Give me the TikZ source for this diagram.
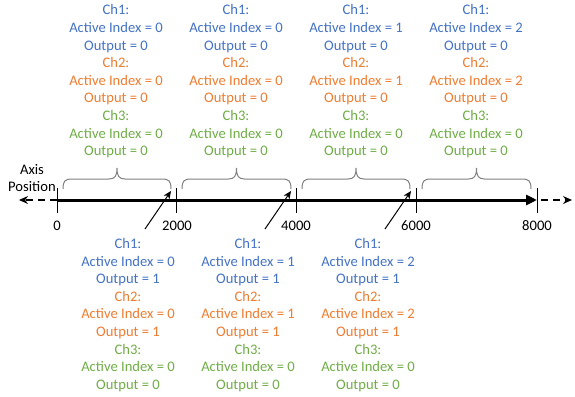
\documentclass[tikz,border=0pt]{standalone}
\usepackage{fontspec}
\setmainfont{Carlito}
\usetikzlibrary{arrows.meta}
\definecolor{cA}{HTML}{4472C4}
\definecolor{cB}{HTML}{ED7D31}
\definecolor{cC}{HTML}{70AD47}
\newcommand{\blk}[6]{\textcolor{cA}{Ch1:}\\\textcolor{cA}{Active Index = #1}\\\textcolor{cA}{Output = #2}\\\textcolor{cB}{Ch2:}\\\textcolor{cB}{Active Index = #3}\\\textcolor{cB}{Output = #4}\\\textcolor{cC}{Ch3:}\\\textcolor{cC}{Active Index = #5}\\\textcolor{cC}{Output = #6}}
\begin{document}
\begin{tikzpicture}[x=1pt,y=-1pt,
  txt/.style={align=center,inner sep=0pt,font=\fontsize{14.6}{17.6}\selectfont},
  tick/.style={line width=1pt},
  brc/.style={draw=gray,line width=1pt},
  ptr/.style={line width=1pt,-{Stealth[length=8pt,width=7pt]}}]
\useasboundingbox (0,0) rectangle (575,396);
% tick coordinates
\foreach \n/\x in {a/57,b/176,c/296,d/416,e/537}{
  \coordinate (t\n) at (\x,200);
  \coordinate (t\n u) at (\x,188);
  \coordinate (t\n d) at (\x,213);
  \draw[tick] (t\n u) -- (t\n d);
}
\coordinate (lend) at (19,200);
\coordinate (rend) at (572,200);
\draw[line width=1.3pt,dash pattern=on 7pt off 5pt,-{Stealth[length=9pt,width=8pt]}] (ta) -- (lend);
\draw[line width=1.3pt,dash pattern=on 7pt off 5pt,-{Stealth[length=9pt,width=8pt]}] ([xshift=4pt]te) -- (rend);
\draw[line width=3pt,-{Triangle[length=11pt,width=10pt]}] (ta) -- (te);
% labels
\node[txt] (l0) at (57,226) {0};
\node[txt] (l1) at (177,226) {2000};
\node[txt] (l2) at (296,226) {4000};
\node[txt] (l3) at (416,226) {6000};
\node[txt] (l4) at (537,226) {8000};
\node[txt] (axis) at (32,178) {Axis\\Position};
% braces
\foreach \x/\y in {63/171,182/291,302/410,422/531}{
  \pgfmathsetmacro{\m}{(\x+\y)/2}
  \draw[brc] (\x,189) .. controls (\x,181) and (\x+2,179) .. (\x+9,179) -- (\m-8,179) .. controls (\m-2,179) and (\m,176) .. (\m,168) .. controls (\m,176) and (\m+2,179) .. (\m+8,179) -- (\y-9,179) .. controls (\y-2,179) and (\y,181) .. (\y,189);
}
% top blocks
\node[txt] (top1) at (116,81.5) {\blk{0}{0}{0}{0}{0}{0}};
\node[txt] (top2) at (236,81.5) {\blk{0}{0}{0}{0}{0}{0}};
\node[txt] (top3) at (356,81.5) {\blk{1}{0}{1}{0}{0}{0}};
\node[txt] (top4) at (476,81.5) {\blk{2}{0}{2}{0}{0}{0}};
% bottom blocks
\node[txt] (bot1) at (128,315) {\blk{0}{1}{0}{1}{0}{0}};
\node[txt] (bot2) at (248,315) {\blk{1}{1}{1}{1}{0}{0}};
\node[txt] (bot3) at (368,315) {\blk{2}{1}{2}{1}{0}{0}};
% pointers
\foreach \n/\x/\t in {1/145/b,2/265/c,3/385/d}{
  \coordinate (p\n) at (\x,229);
  \draw[ptr] (p\n) -- ([xshift=-5pt,yshift=9pt]t\t);
}
\end{tikzpicture}
\end{document}
